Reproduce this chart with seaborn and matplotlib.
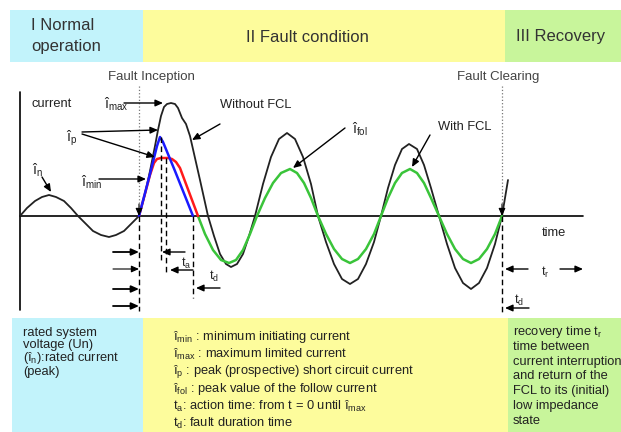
import matplotlib
matplotlib.use("Agg")
import matplotlib.pyplot as plt
import seaborn as sns
import pandas as pd
from matplotlib.patches import Rectangle

# ── Curve data (t: time from the origin, i: current above the time axis) ─────
t_black = [0, 7, 15, 22, 29, 36, 44, 51, 58,
           66, 73, 81, 89, 96, 104, 111, 119,
           125, 130, 135, 138, 141, 144, 147, 151, 155, 158, 162, 166, 170, 175, 180, 184, 188,
           194, 200, 206, 211, 217, 223, 229, 235,
           243, 251, 259, 267, 275, 283, 291, 298,
           306, 314, 322, 330, 338, 346, 354, 361,
           368, 375, 382, 389, 397, 404, 411, 419,
           427, 435, 443, 451, 459, 467, 475, 482,
           485, 488]
i_black = [0, 8, 15, 19, 21, 19, 15, 8, 0,
           -8, -15, -19, -21, -19, -15, -8, 0,
           22, 45, 70, 86, 100, 109, 112, 113, 112, 108, 98, 92, 80, 58, 36, 18, 0,
           -20, -38, -48, -51, -48, -38, -20, 0,
           32, 59, 77, 83, 77, 59, 32, 0,
           -26, -48, -63, -68, -63, -48, -26, 0,
           28, 51, 67, 72, 67, 51, 28, 0,
           -28, -52, -67, -73, -67, -52, -28, 0,
           18, 36]

t_green = [178, 185, 193, 201, 209, 216, 223, 230, 237,
           245, 253, 261, 270, 277, 284, 291, 298,
           306, 314, 322, 330, 338, 346, 354, 361,
           368, 375, 382, 390, 397, 404, 411, 419,
           427, 435, 443, 451, 459, 467, 475, 482]
i_green = [0, -18, -34, -44, -47, -44, -34, -18, 0,
           18, 33, 43, 47, 43, 33, 18, 0,
           -18, -33, -43, -47, -43, -33, -18, 0,
           18, 33, 43, 47, 43, 33, 18, 0,
           -18, -33, -43, -47, -43, -33, -18, 0]

t_red = [119, 130, 134, 137, 141, 148, 152, 156, 160, 178]
i_red = [0, 41, 53, 57, 58, 58, 57, 54, 48, 0]

t_blue = [119, 130, 137, 140, 143, 155, 173]
i_blue = [0, 42, 70, 79, 74, 45, 0]

phases = ["I Normal", "operation", "II Fault condition", "III Recovery"]
phase_colors = ["#c2f3fb", "#fdfc9c", "#c8f59b"]

left_notes = ["rated system", "voltage (Un)", "(î$_n$):rated current", "(peak)"]
mid_notes = ["î$_{min}$ : minimum initiating current",
             "î$_{max}$ : maximum limited current",
             "î$_p$ : peak (prospective) short circuit current",
             "î$_{fol}$ : peak value of the follow current",
             "t$_a$: action time: from t = 0 until î$_{max}$",
             "t$_d$: fault duration time"]
right_notes = ["recovery time t$_r$", "time between", "current interruption",
               "and return of the", "FCL to its (initial)", "low impedance", "state"]

# ── Style ─────────────────────────────────────────────────────────────────────
sns.set_style("white")
plt.rcParams["font.family"] = ["Liberation Sans", "DejaVu Sans"]
plt.rcParams["mathtext.fontset"] = "custom"
plt.rcParams["mathtext.rm"] = "Liberation Sans"
plt.rcParams["mathtext.it"] = "Liberation Sans"
plt.rcParams["mathtext.default"] = "regular"

fig = plt.figure(figsize=(6.21, 4.32), dpi=100)
ax = fig.add_axes([0, 0, 1, 1])


def pt(x, y):
    # picture pixel -> data coordinates
    return (x - 20, 216 - y)


def arrow(x0, y0, x1, y1, lw=1.0, color="k"):
    ax.annotate("", xy=pt(x1, y1), xytext=pt(x0, y0),
                arrowprops=dict(arrowstyle="-|>,head_length=0.45,head_width=0.2",
                                color=color, lw=lw, shrinkA=0, shrinkB=0))


def vline(x, y0, y1, ls=(0, (4, 2.5)), color="k", lw=1.0):
    (a, b), (c, d) = pt(x, y0), pt(x, y1)
    ax.plot([a, c], [b, d], ls=ls, color=color, lw=lw)


# ── Phase bands ───────────────────────────────────────────────────────────────
top_edges = [10, 143, 505, 621]
bot_edges = [12, 143, 508, 621]
for k in range(3):
    ax.add_patch(Rectangle(pt(top_edges[k], 62), top_edges[k + 1] - top_edges[k], 52,
                           color=phase_colors[k], lw=0))
    ax.add_patch(Rectangle(pt(bot_edges[k], 432), bot_edges[k + 1] - bot_edges[k], 114,
                           color=phase_colors[k], lw=0))

band_txt = dict(fontsize=12, color="#333333", va="center")
ax.text(*pt(31, 26), phases[0], **band_txt)
ax.text(*pt(31, 46), phases[1], **band_txt)
ax.text(*pt(307, 37), phases[2], ha="center", **band_txt)
ax.text(*pt(561, 37), phases[3], ha="center", **band_txt)

# ── Axes of the diagram ───────────────────────────────────────────────────────
ax.plot(*zip(pt(20, 92), pt(20, 310)), color="k", lw=1.2)
ax.plot(*zip(pt(20, 216), pt(583, 216)), color="k", lw=1.2)

# ── Curves ────────────────────────────────────────────────────────────────────
sns.lineplot(data=pd.DataFrame({"t": t_black, "i": i_black}), x="t", y="i",
             sort=False, estimator=None, color="#222222", lw=1.3, ax=ax)
sns.lineplot(data=pd.DataFrame({"t": t_green, "i": i_green}), x="t", y="i",
             sort=False, estimator=None, color="#3ac43a", lw=1.8, ax=ax)
sns.lineplot(data=pd.DataFrame({"t": t_red, "i": i_red}), x="t", y="i",
             sort=False, estimator=None, color="#ff1a1a", lw=1.8, ax=ax)
sns.lineplot(data=pd.DataFrame({"t": t_blue, "i": i_blue}), x="t", y="i",
             sort=False, estimator=None, color="#1a1aff", lw=1.8, ax=ax)

# ── Fault inception / clearing markers ────────────────────────────────────────
vline(139, 86, 206, ls=":", color="#777777", lw=0.9)
vline(502, 86, 206, ls=":", color="#777777", lw=0.9)
arrow(139, 204, 139, 216, lw=0.8)
arrow(502, 204, 502, 216, lw=0.8)
ax.text(*pt(151, 77), "Fault Inception", fontsize=9.5, color="#444444", ha="center", va="center")
ax.text(*pt(498, 77), "Fault Clearing", fontsize=9.5, color="#444444", ha="center", va="center")

vline(139, 216, 311)
vline(161, 137, 262)
vline(166, 158, 275)
vline(193, 216, 298)
vline(502, 216, 313)

# ── Labels and arrows ─────────────────────────────────────────────────────────
lab = dict(fontsize=9.3, va="center", color="#222222")
ax.text(*pt(32, 104), "current", **lab)
ax.text(*pt(554, 233), "time", ha="center", **lab)

hat = dict(fontsize=10, va="center", color="#222222")
ax.text(*pt(104, 104), "î$_{max}$", **hat)
arrow(124, 103, 163, 103)
ax.text(*pt(66, 138), "î$_p$", **hat)
arrow(82, 132, 158, 130)
arrow(82, 134, 155, 157)
ax.text(*pt(81, 182), "î$_{min}$", **hat)
arrow(99, 179, 146, 179)
ax.text(*pt(32, 170), "î$_n$", **hat)
arrow(42, 177, 51, 192)

ax.text(*pt(220, 105), "Without FCL", **lab)
arrow(220, 124, 192, 140)
ax.text(*pt(352, 129), "î$_{fol}$", **hat)
arrow(345, 128, 293, 168)
ax.text(*pt(438, 127), "With FCL", **lab)
arrow(430, 135, 412, 167)

for y in [252, 269, 289, 306]:
    arrow(113, y, 139, y, lw=1.3 if y != 269 else 0.8)
arrow(185, 252, 162, 252)
ax.text(*pt(181, 263), "t$_a$", fontsize=9, va="center")
arrow(193, 270, 170, 270)
ax.text(*pt(209, 276), "t$_d$", fontsize=9, va="center")
arrow(220, 288, 196, 288)

arrow(528, 269, 505, 269)
ax.text(*pt(541, 272), "t$_r$", fontsize=9, va="center")
arrow(560, 269, 583, 269)
ax.text(*pt(514, 300), "t$_d$", fontsize=9, va="center")
arrow(529, 308, 505, 308)

# ── Legend boxes at the bottom ────────────────────────────────────────────────
note = dict(fontsize=9.3, color="#222222")
ax.text(*pt(23, 327), "\n".join(left_notes), va="top", linespacing=0.95, **note)
for k, line in enumerate(mid_notes):
    ax.text(*pt(173, 337 + 17.3 * k), line, va="center", **note)
for k, line in enumerate(right_notes):
    ax.text(*pt(513, 332 + 14.8 * k), line, va="center", **note)

ax.set_xlim(-20, 601)
ax.set_ylim(-216, 216)
ax.axis("off")

fig.savefig("out.png", dpi=100)
